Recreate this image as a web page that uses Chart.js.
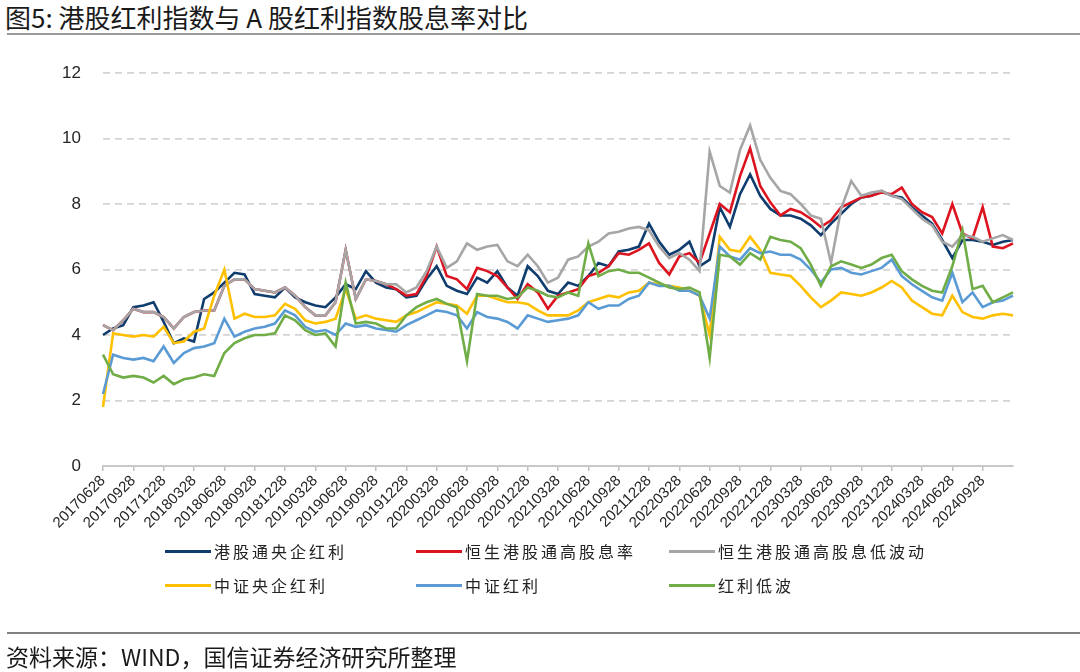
<!DOCTYPE html>
<html>
<head>
<meta charset="utf-8">
<script src="https://cdn.jsdelivr.net/npm/chart.js@4.4.1/dist/chart.umd.min.js"></script>
<style>
    body { margin: 0; width: 1080px; height: 672px; background: #fff; position: relative; overflow: hidden; font-family: 'Noto Sans CJK SC', sans-serif; }
    #title { position: absolute; left: 5px; top: 0px; font-size: 26px; line-height: 34px; color: #1a1a1a; white-space: nowrap; }
    #titleLine { position: absolute; left: 7px; right: 0; top: 33px; height: 2px; background: #9a9a9a; }
    #chartBox { position: absolute; left: 0; top: 0; width: 1080px; height: 672px; }
    #legend { position: absolute; left: 0; top: 538px; width: 1080px; }
    .item { position: absolute; height: 26px; display: flex; align-items: center; font-size: 16px; letter-spacing: 3px; color: #222; white-space: nowrap; }
    .item span.swatch { display: inline-block; width: 46px; height: 3px; margin-right: 3px; }
    #footLine { position: absolute; left: 7px; right: 0; top: 632px; height: 2px; background: #808080; }
    #source { position: absolute; left: 6px; top: 641px; font-size: 23px; color: #1a1a1a; white-space: nowrap; line-height: 30px; }
</style>
</head>
<body>
<div id="title">图5: 港股红利指数与 A 股红利指数股息率对比</div>
<div id="titleLine"></div>
<div id="chartBox"><canvas id="divChart" width="1080" height="672"></canvas></div>
<div id="legend"></div>
<div id="footLine"></div>
<div id="source">资料来源：WIND，国信证券经济研究所整理</div>
<script>
// 月度取样（图中读数估计）
const dates = [
    '20170628', '20170728', '20170828', '20170928', '20171028', '20171128', '20171228',
    '20180128', '20180228', '20180328', '20180428', '20180528', '20180628', '20180728', '20180828', '20180928', '20181028', '20181128', '20181228',
    '20190128', '20190228', '20190328', '20190428', '20190528', '20190628', '20190728', '20190828', '20190928', '20191028', '20191128', '20191228',
    '20200128', '20200228', '20200328', '20200428', '20200528', '20200628', '20200728', '20200828', '20200928', '20201028', '20201128', '20201228',
    '20210128', '20210228', '20210328', '20210428', '20210528', '20210628', '20210728', '20210828', '20210928', '20211028', '20211128', '20211228',
    '20220128', '20220228', '20220328', '20220428', '20220528', '20220628', '20220728', '20220828', '20220928', '20221028', '20221128', '20221228',
    '20230128', '20230228', '20230328', '20230428', '20230528', '20230628', '20230728', '20230828', '20230928', '20231028', '20231128', '20231228',
    '20240128', '20240228', '20240328', '20240428', '20240528', '20240628', '20240728', '20240828', '20240928', '20241028', '20241128', '20241220'
];

const hkSoeDiv = [
    4.0, 4.2, 4.3, 4.85, 4.9, 5.0, 4.4,
    3.75, 3.9, 3.8, 5.1, 5.3, 5.6, 5.9, 5.85, 5.25, 5.2, 5.15, 5.45,
    5.15, 5.0, 4.9, 4.85, 5.15, 5.55, 5.4, 5.95, 5.6, 5.45, 5.4, 5.15,
    5.2, 5.7, 6.1, 5.5, 5.35, 5.25, 5.75, 5.6, 5.95, 5.45, 5.2, 6.1,
    5.8, 5.35, 5.25, 5.6, 5.5, 5.8, 6.2, 6.1, 6.55, 6.6, 6.7, 7.4,
    6.85, 6.45, 6.6, 6.85, 6.1, 6.3, 7.9, 7.3, 8.3, 8.9, 8.25, 7.85,
    7.65, 7.65, 7.55, 7.35, 7.05, 7.4, 7.7, 8.0, 8.2, 8.25, 8.4, 8.25,
    8.2, 7.9, 7.65, 7.4, 6.9, 6.35, 6.9, 6.9, 6.85, 6.75, 6.85, 6.9
];
const hsHighDiv = [
    4.3, 4.15, 4.45, 4.8, 4.7, 4.7, 4.55,
    4.2, 4.55, 4.7, 4.75, 4.75, 5.5, 5.7, 5.7, 5.4, 5.35, 5.3, 5.45,
    5.2, 4.85, 4.6, 4.6, 5.0, 6.6, 5.1, 5.7, 5.65, 5.55, 5.4, 5.2,
    5.25, 5.8, 6.7, 5.8, 5.7, 5.4, 6.05, 5.95, 5.8, 5.45, 5.1, 5.55,
    5.3, 4.8, 5.2, 5.3, 5.4, 5.8, 5.9, 6.1, 6.5, 6.45, 6.6, 6.8,
    6.2, 5.85, 6.4, 6.5, 6.2, 7.1, 8.0, 7.75, 8.85, 9.7, 8.55, 8.05,
    7.65, 7.85, 7.75, 7.55, 7.3, 7.5, 7.9, 8.05, 8.2, 8.25, 8.35, 8.3,
    8.5, 8.0, 7.75, 7.6, 7.1, 8.0, 7.1, 6.95, 7.9, 6.7, 6.65, 6.8
];
const hsHighDivLowVol = [
    4.3, 4.15, 4.45, 4.8, 4.7, 4.7, 4.55,
    4.2, 4.55, 4.7, 4.75, 4.75, 5.5, 5.7, 5.7, 5.4, 5.35, 5.3, 5.45,
    5.2, 4.85, 4.6, 4.6, 5.0, 6.6, 5.1, 5.7, 5.65, 5.55, 5.55, 5.3,
    5.45, 5.95, 6.7, 6.05, 6.25, 6.8, 6.6, 6.7, 6.75, 6.25, 6.1, 6.45,
    6.1, 5.6, 5.75, 6.3, 6.4, 6.7, 6.85, 7.1, 7.15, 7.25, 7.3, 7.2,
    6.7, 6.35, 6.5, 6.3, 5.95, 9.6, 8.55, 8.35, 9.65, 10.4, 9.35, 8.8,
    8.4, 8.3, 8.0, 7.65, 7.55, 6.2, 7.85, 8.7, 8.25, 8.35, 8.4, 8.25,
    8.15, 7.85, 7.55, 7.35, 6.85, 6.7, 7.05, 7.0, 6.85, 6.95, 7.05, 6.9
];
const csiSoeDiv = [
    1.8, 4.05, 4.0, 3.95, 4.0, 3.95, 4.25,
    3.75, 3.8, 4.1, 4.2, 5.2, 6.0, 4.5, 4.65, 4.55, 4.55, 4.6, 4.95,
    4.8, 4.45, 4.35, 4.4, 4.5, 5.4, 4.5, 4.6, 4.5, 4.45, 4.4, 4.6,
    4.7, 4.85, 5.0, 4.95, 4.9, 4.65, 5.2, 5.2, 5.1, 5.0, 5.0, 4.95,
    4.75, 4.6, 4.6, 4.6, 4.75, 5.0, 5.1, 5.2, 5.15, 5.3, 5.35, 5.6,
    5.55, 5.5, 5.45, 5.35, 5.2, 4.0, 7.0, 6.6, 6.55, 7.0, 6.6, 5.9,
    5.85, 5.8, 5.5, 5.15, 4.85, 5.05, 5.3, 5.25, 5.2, 5.3, 5.45, 5.65,
    5.45, 5.05, 4.85, 4.65, 4.6, 5.2, 4.7, 4.55, 4.5, 4.6, 4.65, 4.6
];
const csiDiv = [
    2.2, 3.4, 3.3, 3.25, 3.3, 3.2, 3.65,
    3.15, 3.45, 3.6, 3.65, 3.75, 4.5, 3.95, 4.1, 4.2, 4.25, 4.35, 4.75,
    4.6, 4.25, 4.1, 4.15, 4.0, 4.35, 4.25, 4.3, 4.2, 4.15, 4.1, 4.3,
    4.45, 4.6, 4.75, 4.7, 4.6, 4.2, 4.7, 4.55, 4.5, 4.4, 4.2, 4.6,
    4.5, 4.4, 4.45, 4.5, 4.6, 5.0, 4.8, 4.9, 4.9, 5.1, 5.2, 5.6,
    5.5, 5.5, 5.35, 5.35, 5.2, 4.5, 6.7, 6.4, 6.3, 6.65, 6.5, 6.55,
    6.45, 6.45, 6.3, 6.0, 5.6, 6.0, 6.05, 5.9, 5.85, 5.95, 6.05, 6.3,
    5.8, 5.55, 5.35, 5.15, 5.05, 5.9, 5.0, 5.3, 4.85, 5.0, 5.05, 5.2
];
const divLowVol = [
    3.4, 2.8, 2.7, 2.75, 2.7, 2.55, 2.75,
    2.5, 2.65, 2.7, 2.8, 2.75, 3.45, 3.75, 3.9, 4.0, 4.0, 4.05, 4.6,
    4.45, 4.15, 4.0, 4.05, 3.65, 5.6, 4.35, 4.4, 4.35, 4.2, 4.2, 4.6,
    4.85, 5.0, 5.1, 4.95, 4.85, 3.2, 5.25, 5.2, 5.2, 5.1, 5.15, 5.45,
    5.35, 5.2, 5.15, 5.3, 5.2, 6.8, 5.8, 5.95, 6.0, 5.9, 5.9, 5.75,
    5.6, 5.45, 5.4, 5.45, 5.3, 3.3, 6.45, 6.4, 6.15, 6.5, 6.3, 7.0,
    6.9, 6.85, 6.65, 6.15, 5.5, 6.1, 6.25, 6.15, 6.05, 6.15, 6.35, 6.45,
    5.95, 5.7, 5.5, 5.35, 5.3, 6.1, 7.2, 5.4, 5.5, 5.0, 5.15, 5.3
];

const seriesNames = ['港股通央企红利', '恒生港股通高股息率', '恒生港股通高股息低波动', '中证央企红利', '中证红利', '红利低波'];
const seriesData = [hkSoeDiv, hsHighDiv, hsHighDivLowVol, csiSoeDiv, csiDiv, divLowVol];
const seriesColors = ['#0f3d6e', '#dc1420', '#a6a6a6', '#ffc000', '#5b9bd5', '#70ad47'];

const yTicks = [0, 2, 4, 6, 8, 10, 12];

// 图例（三列两行）
const legendBox = document.getElementById('legend');
const colX = [165, 416, 669];
seriesNames.forEach(function(name, i) {
    const div = document.createElement('div');
    div.className = 'item';
    div.style.left = colX[i % 3] + 'px';
    div.style.top = (i < 3 ? 0 : 34) + 'px';
    div.innerHTML = '<span class="swatch" style="background:' + seriesColors[i] + '"></span>' + name;
    legendBox.appendChild(div);
});

const ctx = document.getElementById('divChart').getContext('2d');

new Chart(ctx, {
    type: 'line',
    data: {
        labels: dates,
        datasets: seriesData.map(function(vals, i) {
            return {
                label: seriesNames[i],
                data: vals,
                borderColor: seriesColors[i],
                backgroundColor: seriesColors[i],
                borderWidth: 2.6,
                pointRadius: 0,
                tension: 0,
                order: seriesNames.length - i   // 后面的序列画在上面
            };
        })
    },
    options: {
        responsive: false,
        animation: false,
        layout: { padding: { top: 73, right: 67, left: 0, bottom: 0 } },
        plugins: {
            legend: { display: false },
            tooltip: { enabled: false }
        },
        scales: {
            x: {
                ticks: {
                    autoSkip: false,
                    maxRotation: 45,
                    minRotation: 45,
                    padding: 1,
                    color: '#262626',
                    font: { family: 'Liberation Sans, Arial, sans-serif', size: 15 },
                    callback: function(value) {
                        const lab = this.getLabelForValue(value);
                        return /(03|06|09|12)28$/.test(lab) ? lab : null;
                    }
                },
                grid: { drawOnChartArea: false, drawTicks: true, tickLength: 5, color: '#bfbfbf', lineWidth: 1.5 },
                border: { display: true, color: '#c8c8c8', width: 2 },
                afterFit: function(scale) { scale.height = 672 - 466; }
            },
            y: {
                min: 0,
                max: 12,
                afterBuildTicks: function(scale) {
                    scale.ticks = yTicks.map(v => ({ value: v }));
                },
                ticks: {
                    padding: 22,
                    color: '#262626',
                    font: { family: 'Liberation Sans, Arial, sans-serif', size: 17 }
                },
                grid: { color: '#d4d4d4', lineWidth: 1.8, drawTicks: false },
                border: { display: false, dash: [7, 5] },
                afterFit: function(scale) { scale.width = 103; }
            }
        }
    }
});
</script>
</body>
</html>
